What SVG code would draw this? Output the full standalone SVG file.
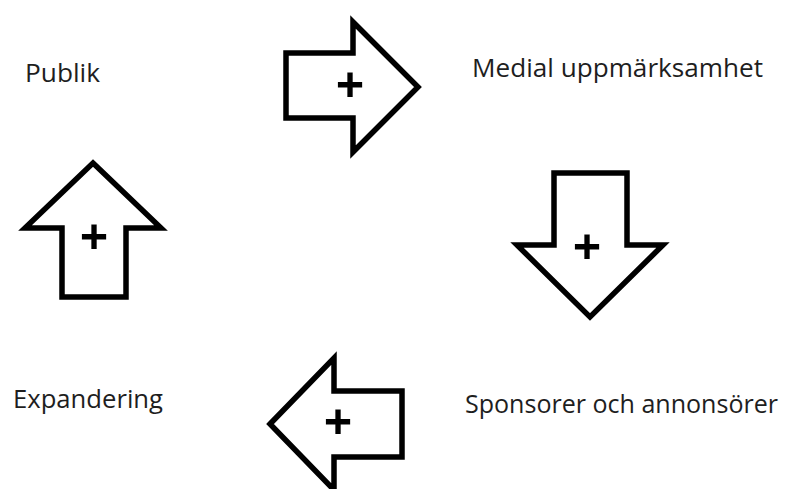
<svg xmlns="http://www.w3.org/2000/svg" width="790" height="489" viewBox="0 0 790 489">
<style>
.arrow{fill:#fff;stroke:#000;stroke-width:5.5;stroke-linejoin:miter}
.lbl{font-family:"Open Sans","Noto Sans",sans-serif;font-size:25px;fill:#1e1e1e}
.plus{font-family:"Open Sans","DejaVu Sans",sans-serif;font-weight:bold;font-size:50px;fill:#000;text-anchor:middle}
</style>
<rect width="790" height="489" fill="#fff"/>
<g id="publik"><text class="lbl" x="25" y="82" textLength="75" lengthAdjust="spacingAndGlyphs">Publik</text></g>
<g id="medial"><text class="lbl" x="472" y="77" textLength="291" lengthAdjust="spacingAndGlyphs">Medial uppmärksamhet</text></g>
<g id="expandering"><text class="lbl" x="13" y="408" textLength="150" lengthAdjust="spacingAndGlyphs">Expandering</text></g>
<g id="sponsorer"><text class="lbl" x="465" y="413" textLength="313" lengthAdjust="spacingAndGlyphs">Sponsorer och annonsörer</text></g>
<g id="connectors">
<g id="arrow-right"><path class="arrow" d="M286,53 H353 V22 L418,87 L353,152 V118 H286 Z"/><text class="plus" x="350" y="103">+</text></g>
<g id="arrow-down"><path class="arrow" d="M554,173 H627 V245 H663 L590,317 L517,245 H554 Z"/><text class="plus" x="587" y="265">+</text></g>
<g id="arrow-left"><path class="arrow" d="M270,424 L334,358 V391 H402 V457 H334 V490 Z"/><text class="plus" x="338" y="440">+</text></g>
<g id="arrow-up"><path class="arrow" d="M93,163 L161,228 H126 V297 H62 V228 H25 Z"/><text class="plus" x="94" y="255">+</text></g>
</g>
</svg>
